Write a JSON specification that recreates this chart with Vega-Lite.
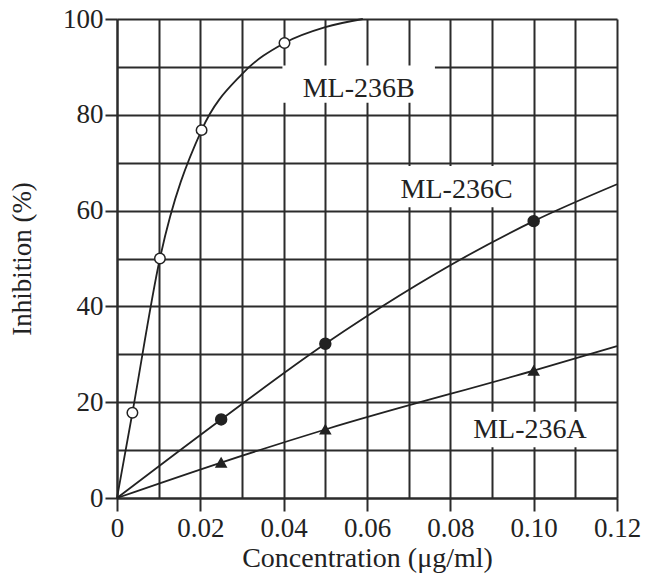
{
  "$schema": "https://vega.github.io/schema/vega-lite/v6.json",
  "width": 500,
  "height": 479,
  "autosize": {"type": "none"},
  "padding": {"left": 117, "top": 19, "right": 30, "bottom": 76},
  "background": "white",
  "config": {"view": {"stroke": null}, "font": "Liberation Serif"},
  "datasets": {
    "points": [
      {"series": "ML-236B", "x": 0.0037, "y": 17.8},
      {"series": "ML-236B", "x": 0.0103, "y": 50},
      {"series": "ML-236B", "x": 0.0203, "y": 76.8},
      {"series": "ML-236B", "x": 0.0402, "y": 95},
      {"series": "ML-236C", "x": 0.025, "y": 16.4},
      {"series": "ML-236C", "x": 0.05, "y": 32.2},
      {"series": "ML-236C", "x": 0.1, "y": 57.8},
      {"series": "ML-236A", "x": 0.025, "y": 7.4},
      {"series": "ML-236A", "x": 0.05, "y": 14.3},
      {"series": "ML-236A", "x": 0.1, "y": 26.6}
    ],
    "curves": [
      {"series": "ML-236B", "x": 0, "y": 0},
      {"series": "ML-236B", "x": 0.0037, "y": 17.8},
      {"series": "ML-236B", "x": 0.0103, "y": 50},
      {"series": "ML-236B", "x": 0.0203, "y": 76.8},
      {"series": "ML-236B", "x": 0.03, "y": 88.5},
      {"series": "ML-236B", "x": 0.0402, "y": 95},
      {"series": "ML-236B", "x": 0.05, "y": 98.3},
      {"series": "ML-236B", "x": 0.059, "y": 100},
      {"series": "ML-236C", "x": 0, "y": 0},
      {"series": "ML-236C", "x": 0.025, "y": 16.4},
      {"series": "ML-236C", "x": 0.05, "y": 32.2},
      {"series": "ML-236C", "x": 0.1, "y": 57.8},
      {"series": "ML-236C", "x": 0.12, "y": 65.5},
      {"series": "ML-236A", "x": 0, "y": 0},
      {"series": "ML-236A", "x": 0.025, "y": 7.4},
      {"series": "ML-236A", "x": 0.05, "y": 14.3},
      {"series": "ML-236A", "x": 0.1, "y": 26.6},
      {"series": "ML-236A", "x": 0.12, "y": 31.7}
    ],
    "labels": [
      {"label": "ML-236B", "x": 0.058, "y": 83.7},
      {"label": "ML-236C", "x": 0.0815, "y": 62.6},
      {"label": "ML-236A", "x": 0.0991, "y": 12.5}
    ],
    "boxes": [
      {"label": "ML-236B", "x": 0.0397, "x2": 0.0763, "y": 82.5, "y2": 90.3},
      {"label": "ML-236C", "x": 0.064, "x2": 0.099, "y": 60.7, "y2": 69.3},
      {"label": "ML-236A", "x": 0.082, "x2": 0.117, "y": 10.6, "y2": 18.0}
    ]
  },
  "encoding": {
    "x": {
      "field": "x",
      "type": "quantitative",
      "scale": {"domain": [0, 0.12], "nice": false, "zero": false},
      "axis": {
        "title": "Concentration (μg/ml)",
        "values": [0, 0.01, 0.02, 0.03, 0.04, 0.05, 0.06, 0.07, 0.08, 0.09, 0.1, 0.11, 0.12],
        "labelExpr": "round(datum.value*100) % 2 === 0 ? (datum.value === 0 ? '0' : format(datum.value, '.2f')) : ''",
        "grid": true,
        "gridColor": "#2b2b2b",
        "gridWidth": 2,
        "gridOpacity": 1,
        "domainColor": "#2b2b2b",
        "domainWidth": 2,
        "tickColor": "#2b2b2b",
        "tickWidth": 2,
        "tickSize": 13,
        "tickOpacity": {"condition": {"test": "round(datum.value*100) % 2 === 0", "value": 1}, "value": 0},
        "labelFontSize": 27,
        "labelFont": "Liberation Serif",
        "labelColor": "#222",
        "labelPadding": 4,
        "labelFlush": false,
        "labelOverlap": false,
        "labelBound": false,
        "titleFont": "Liberation Serif",
        "titleFontSize": 28,
        "titleFontWeight": "normal",
        "titleColor": "#222",
        "titlePadding": 3
      }
    },
    "y": {
      "field": "y",
      "type": "quantitative",
      "scale": {"domain": [0, 100], "nice": false},
      "axis": {
        "title": "Inhibition (%)",
        "values": [0, 10, 20, 30, 40, 50, 60, 70, 80, 90, 100],
        "labelExpr": "datum.value % 20 === 0 ? datum.label : ''",
        "grid": true,
        "gridColor": "#2b2b2b",
        "gridWidth": 2,
        "gridOpacity": 1,
        "domainColor": "#2b2b2b",
        "domainWidth": 2,
        "tickColor": "#2b2b2b",
        "tickWidth": 2,
        "tickSize": 12,
        "tickOpacity": {"condition": {"test": "datum.value % 20 === 0", "value": 1}, "value": 0},
        "labelFontSize": 27,
        "labelFont": "Liberation Serif",
        "labelColor": "#222",
        "labelPadding": 2,
        "labelFlush": false,
        "labelOverlap": false,
        "labelBound": false,
        "titleFont": "Liberation Serif",
        "titleFontSize": 27,
        "titleFontWeight": "normal",
        "titleColor": "#222",
        "titlePadding": 26
      }
    }
  },
  "layer": [
    {
      "data": {"name": "boxes"},
      "mark": {"type": "rect", "fill": "white"},
      "encoding": {
        "x2": {"field": "x2"},
        "y2": {"field": "y2"}
      }
    },
    {
      "data": {"name": "curves"},
      "mark": {"type": "line", "interpolate": "monotone", "color": "#222", "strokeWidth": 1.8},
      "encoding": {
        "detail": {"field": "series", "type": "nominal"}
      }
    },
    {
      "data": {"name": "points"},
      "mark": {"type": "point", "filled": true, "stroke": "#222", "strokeWidth": 1.5, "opacity": 1},
      "encoding": {
        "shape": {"field": "series", "type": "nominal", "scale": {"domain": ["ML-236A", "ML-236B", "ML-236C"], "range": ["triangle-up", "circle", "circle"]}, "legend": null},
        "fill": {"field": "series", "type": "nominal", "scale": {"domain": ["ML-236A", "ML-236B", "ML-236C"], "range": ["#222", "white", "#222"]}, "legend": null},
        "size": {"field": "series", "type": "nominal", "scale": {"domain": ["ML-236A", "ML-236B", "ML-236C"], "range": [100, 120, 95]}, "legend": null}
      }
    },
    {
      "data": {"name": "labels"},
      "mark": {"type": "text", "font": "Liberation Serif", "fontSize": 28, "color": "#222", "align": "center", "baseline": "alphabetic"},
      "encoding": {
        "text": {"field": "label", "type": "nominal"}
      }
    }
  ]
}
